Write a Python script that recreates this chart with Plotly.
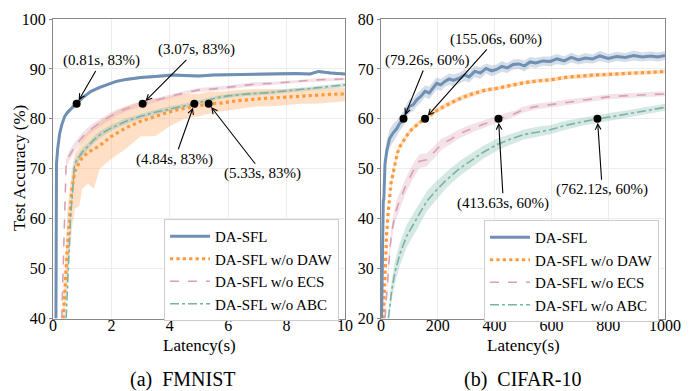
import plotly.graph_objects as go

# ---------------- FMNIST data ----------------
f_sfl_x = [0.10, 0.11, 0.12, 0.16, 0.23, 0.3, 0.4, 0.5, 0.6, 0.7, 0.81, 0.9, 1.0, 1.14, 1.3, 1.6, 1.9, 2.17, 2.5, 3.0,
           3.5, 4.1, 4.5, 5.0, 5.5, 6.2, 6.8, 7.3, 7.8, 8.3, 8.8, 9.1, 9.5, 10.0]
f_sfl_y = [40, 55, 71, 74, 77.1, 78.8, 80.5, 81.3, 82.0, 82.5, 83.0, 83.6, 84.2, 84.8, 85.5, 86.3, 87.0, 87.5, 87.9, 88.3,
           88.5, 88.8, 88.7, 88.6, 88.8, 88.9, 88.9, 89.0, 89.0, 89.1, 89.0, 89.5, 89.2, 89.0]
f_sfl_w = [0.5, 0.5, 0.5, 0.5, 0.5, 0.4, 0.4, 0.4, 0.4, 0.4, 0.4, 0.4, 0.4, 0.4, 0.3, 0.3, 0.3, 0.3, 0.3, 0.3,
           0.3, 0.3, 0.3, 0.3, 0.3, 0.3, 0.3, 0.3, 0.3, 0.3, 0.3, 0.3, 0.3, 0.3]

f_daw_x = [0.35, 0.5, 0.65, 0.75, 0.9, 1.0, 1.2, 1.4, 1.6, 2.0, 2.5, 3.0, 3.5, 4.0, 4.5, 5.0, 5.33, 5.8, 6.3, 7.0,
           7.5, 8.0, 8.5, 9.0, 9.5, 10.0]
f_daw_y = [40, 55, 66, 69.5, 71.3, 72.2, 73.3, 74.0, 74.6, 76.5, 78.2, 79.5, 80.4, 81.4, 82.1, 82.6, 83.0, 83.2, 83.6, 84.0,
           84.2, 84.4, 84.6, 84.8, 84.9, 85.0]
f_daw_lo = [38, 48, 58, 62, 62.5, 66, 67, 66, 70, 72, 74, 76.5, 76.5, 78.5, 80, 80.5, 81, 81.5, 82, 82.5,
            82.5, 82.7, 83, 83, 83.3, 83.5]
f_daw_hi = [42, 62, 70, 73, 74.5, 76, 77.5, 78.5, 79.5, 81, 82.5, 83.5, 84, 84.5, 85, 85, 85.5, 85.5, 85.8, 86,
            86, 86, 86.2, 86.2, 86.3, 86.3]

f_ecs_x = [0.30, 0.40, 0.45, 0.55, 0.7, 0.85, 1.0, 1.2, 1.4, 1.6, 1.9, 2.2, 2.6, 3.07, 3.5, 4.0, 4.5, 5.0, 5.5, 6.0,
           6.5, 7.0, 7.5, 7.9, 8.5, 9.0, 9.5, 10.0]
f_ecs_y = [40, 60, 71, 72.5, 74, 75.2, 76.3, 77.5, 78.4, 79.2, 80.3, 81.3, 82.2, 83.0, 83.7, 84.5, 85.2, 85.8, 86.0, 86.3,
           86.7, 87.0, 87.1, 87.3, 87.6, 87.8, 87.9, 88.0]
f_ecs_w = [1.0, 1.0, 1.0, 1.0, 1.0, 0.9, 0.9, 0.8, 0.8, 0.7, 0.7, 0.6, 0.5, 0.5, 0.4, 0.4, 0.4, 0.4, 0.4, 0.4,
           0.4, 0.4, 0.3, 0.3, 0.3, 0.3, 0.3, 0.3]

f_abc_x = [0.45, 0.6, 0.74, 0.9, 1.0, 1.2, 1.4, 1.6, 2.0, 2.5, 3.0, 3.5, 4.0, 4.5, 4.84, 5.2, 5.6, 6.0, 6.7, 7.5,
           8.0, 8.5, 9.0, 9.5, 10.0]
f_abc_y = [40, 60, 71, 72.5, 73.3, 74.5, 75.8, 76.8, 78.2, 79.5, 80.5, 81.3, 82.0, 82.6, 83.0, 83.6, 84.2, 84.6, 85.0, 85.3,
           85.6, 86.0, 86.3, 86.5, 86.8]
f_abc_w = [0.8, 0.8, 0.8, 0.8, 0.8, 0.7, 0.7, 0.7, 0.6, 0.6, 0.5, 0.5, 0.5, 0.5, 0.4, 0.4, 0.4, 0.4, 0.4, 0.4,
           0.4, 0.4, 0.4, 0.4, 0.4]

f_mark_x = [0.81, 3.07, 4.84, 5.33]
f_mark_y = [83, 83, 83, 83]
f_mark_text = ["(0.81s, 83%)", "(3.07s, 83%)", "(4.84s, 83%)", "(5.33s, 83%)"]
f_text_x = [1.66, 4.91, 4.17, 7.19]
f_text_y = [91.6, 93.8, 71.9, 69.0]

# ---------------- CIFAR-10 data ----------------
c_sfl_x = [2, 4, 6, 8, 10, 14, 20, 30, 43, 55, 65, 79, 90, 100, 113, 126, 140, 155, 170, 185, 196, 210, 225, 240, 255,
           278, 295, 310, 330, 350, 370, 390, 407, 425, 445, 465, 485, 505, 525, 545, 570, 595, 620, 645, 670, 695,
           720, 745, 771, 800, 830, 860, 890, 920, 950, 975, 1000]
c_sfl_y = [20, 30, 38, 43.5, 44, 51, 53.5, 56, 57.2, 58, 59, 60, 61.5, 62.5, 62.8, 63.8, 64.5, 65.5, 65.2, 66.3, 67.1,
           66.8, 67.5, 68.0, 67.7, 68.2, 68.8, 68.4, 69.5, 69.2, 70.1, 69.6, 69.9, 70.5, 70.2, 70.9, 71.0, 70.6, 71.4,
           71.2, 71.6, 71.5, 72.0, 71.6, 72.3, 71.8, 72.2, 72.0, 72.6, 72.1, 72.5, 72.3, 72.7, 72.4, 72.6, 72.4, 72.7]
c_sfl_w = [1.5, 2.0, 2.5, 2.5, 2.5, 2.0, 2.0, 1.8, 1.8, 1.6, 1.5, 1.5, 1.4, 1.4, 1.3, 1.3, 1.3, 1.2, 1.3, 1.2, 1.2,
           1.2, 1.1, 1.1, 1.2, 1.1, 1.2, 1.1, 1.1, 1.2, 1.0, 1.1, 1.0, 1.1, 1.0, 1.0, 1.0, 1.1, 1.0, 1.0, 0.9, 1.0,
           1.0, 0.9, 1.0, 0.9, 1.0, 0.9, 1.0, 0.9, 0.9, 0.9, 1.0, 0.9, 0.9, 0.9, 0.9]

c_daw_x = [8, 12, 16, 20, 25, 30, 35, 43, 50, 58, 67, 80, 95, 110, 125, 140, 155, 175, 200, 225, 250, 280, 310, 340,
           370, 407, 450, 500, 550, 595, 650, 700, 750, 800, 850, 900, 950, 1000]
c_daw_y = [20, 26, 32, 37, 41, 44.5, 47, 49.2, 51.5, 53.2, 54.5, 55.8, 57, 58, 58.8, 59.4, 60, 60.8, 61.8, 62.6, 63.3,
           64.1, 64.8, 65.3, 65.8, 66.1, 66.6, 67.2, 67.6, 67.8, 68.3, 68.6, 68.8, 68.9, 69.1, 69.2, 69.3, 69.5]
c_daw_w = [0.6, 0.6, 0.6, 0.6, 0.6, 0.6, 0.6, 0.6, 0.6, 0.6, 0.5, 0.5, 0.5, 0.5, 0.5, 0.5, 0.5, 0.5, 0.5, 0.5, 0.5,
           0.5, 0.5, 0.5, 0.4, 0.4, 0.4, 0.4, 0.4, 0.4, 0.4, 0.4, 0.4, 0.4, 0.4, 0.4, 0.4, 0.4]

c_ecs_x = [14, 20, 26, 32, 40, 50, 60, 73, 90, 113, 135, 161, 190, 215, 243, 270, 300, 330, 360, 390, 413.63, 440,
           470, 500, 540, 595, 650, 700, 750, 800, 850, 900, 950, 1000]
c_ecs_y = [20, 25, 30, 34.5, 38, 41, 42.8, 44.5, 47, 49.5, 51.5, 51.8, 53.5, 55, 55.8, 56.8, 57.6, 58.3, 58.9, 59.5,
           60, 60.5, 61, 61.8, 62.4, 62.8, 63.3, 63.6, 64.0, 64.4, 64.6, 64.7, 64.9, 65.0]
c_ecs_w = [0.8, 1.0, 1.2, 1.4, 1.5, 1.6, 1.6, 1.6, 1.5, 1.5, 1.4, 1.3, 1.2, 1.1, 1.0, 0.9, 0.9, 0.8, 0.8, 0.7,
           0.7, 0.7, 0.6, 0.6, 0.6, 0.5, 0.5, 0.5, 0.5, 0.5, 0.5, 0.5, 0.5, 0.5]

c_abc_x = [26, 32, 38, 50, 67, 90, 126, 161, 200, 231, 278, 320, 360, 407, 450, 500, 550, 595, 650, 700, 762.12, 820,
           870, 920, 960, 1000]
c_abc_y = [20, 23, 25.8, 29.5, 33, 36.5, 40, 43.5, 46, 47.8, 50.1, 51.8, 53.3, 54.8, 55.8, 56.8, 57.4, 57.8, 58.7,
           59.3, 60, 60.5, 61, 61.5, 61.9, 62.3]
c_abc_w = [1.0, 1.5, 2.0, 2.2, 2.3, 2.3, 2.2, 2.0, 1.8, 1.6, 1.5, 1.4, 1.3, 1.2, 1.1, 1.0, 1.0, 0.9, 0.9, 0.8,
           0.8, 0.8, 0.7, 0.7, 0.7, 0.7]

c_mark_x = [79.26, 155.06, 413.63, 762.12]
c_mark_y = [60, 60, 60, 60]
c_mark_text = ["(79.26s, 60%)", "(155.06s, 60%)", "(413.63s, 60%)", "(762.12s, 60%)"]
c_text_x = [163, 404, 431, 779]
c_text_y = [71.7, 75.9, 43.1, 45.8]

names = ["DA-SFL", "DA-SFL w/o DAW", "DA-SFL w/o ECS", "DA-SFL w/o ABC"]
colors = ["#6f90b4", "#ff9a3c", "#d8a0b4", "#78b4a4"]
fills = ["rgba(111,144,180,0.30)", "rgba(255,160,80,0.32)", "rgba(216,160,180,0.30)", "rgba(120,180,164,0.30)"]
dashes = ["solid", "dot", "dash", "dashdot"]
widths = [3, 3.2, 1.6, 1.6]

FONT = "Times New Roman, Liberation Serif, DejaVu Serif, serif"

fig = go.Figure()


def add_band(x, lo, hi, color, xa, ya):
    fig.add_trace(go.Scatter(x=x + x[::-1], y=hi + lo[::-1], fill="toself", fillcolor=color,
                             line=dict(width=0), mode="lines", hoverinfo="skip", showlegend=False,
                             xaxis=xa, yaxis=ya))


def add_line(x, y, i, xa, ya, legend):
    fig.add_trace(go.Scatter(x=x, y=y, mode="lines", name=names[i], legendrank=i + 1,
                             line=dict(color=colors[i], width=widths[i], dash=dashes[i]),
                             xaxis=xa, yaxis=ya, legend=legend))


# FMNIST bands + lines
f_series = [(f_sfl_x, f_sfl_y, f_sfl_w), (f_daw_x, f_daw_y, None), (f_ecs_x, f_ecs_y, f_ecs_w), (f_abc_x, f_abc_y, f_abc_w)]
for i, (x, y, w) in enumerate(f_series):
    if w is None:
        lo, hi = f_daw_lo, f_daw_hi
    else:
        lo = [a - b for a, b in zip(y, w)]
        hi = [a + b for a, b in zip(y, w)]
    add_band(x, lo, hi, fills[i], "x", "y")
for i in [1, 2, 3, 0]:
    x, y, _ = f_series[i]
    add_line(x, y, i, "x", "y", "legend")

# CIFAR bands + lines
c_series = [(c_sfl_x, c_sfl_y, c_sfl_w), (c_daw_x, c_daw_y, c_daw_w), (c_ecs_x, c_ecs_y, c_ecs_w), (c_abc_x, c_abc_y, c_abc_w)]
for i, (x, y, w) in enumerate(c_series):
    lo = [a - b for a, b in zip(y, w)]
    hi = [a + b for a, b in zip(y, w)]
    add_band(x, lo, hi, fills[i], "x2", "y2")
for i in [1, 2, 3, 0]:
    x, y, _ = c_series[i]
    add_line(x, y, i, "x2", "y2", "legend2")

# markers
fig.add_trace(go.Scatter(x=f_mark_x, y=f_mark_y, mode="markers", marker=dict(color="black", size=8),
                         showlegend=False, xaxis="x", yaxis="y"))
fig.add_trace(go.Scatter(x=c_mark_x, y=c_mark_y, mode="markers", marker=dict(color="black", size=8),
                         showlegend=False, xaxis="x2", yaxis="y2"))

annotations = []
for mx, my, tx, ty, t in zip(f_mark_x, f_mark_y, f_text_x, f_text_y, f_mark_text):
    annotations.append(dict(x=mx, y=my, xref="x", yref="y", ax=tx, ay=ty, axref="x", ayref="y",
                            text=t, showarrow=True, arrowhead=5, arrowsize=1.0, arrowwidth=1.1,
                            arrowcolor="black", standoff=4, font=dict(family=FONT, size=15, color="black")))
for mx, my, tx, ty, t in zip(c_mark_x, c_mark_y, c_text_x, c_text_y, c_mark_text):
    annotations.append(dict(x=mx, y=my, xref="x2", yref="y2", ax=tx, ay=ty, axref="x2", ayref="y2",
                            text=t, showarrow=True, arrowhead=5, arrowsize=1.0, arrowwidth=1.1,
                            arrowcolor="black", standoff=4, font=dict(family=FONT, size=15, color="black")))

# axis titles and captions
cap = dict(xref="paper", yref="paper", showarrow=False, xanchor="center", yanchor="middle")
annotations += [
    dict(text="Latency(s)", x=199 / 697, y=1 - 345 / 391, font=dict(family=FONT, size=17, color="black"), **cap),
    dict(text="Latency(s)", x=523 / 697, y=1 - 345 / 391, font=dict(family=FONT, size=17, color="black"), **cap),
    dict(text="Test Accuracy (%)", x=19 / 697, y=1 - 168 / 391, textangle=-90,
         font=dict(family=FONT, size=17, color="black"), **cap),
    dict(text="(a)  FMNIST", x=183 / 697, y=1 - 379 / 391, font=dict(family=FONT, size=20, color="black"), **cap),
    dict(text="(b)  CIFAR-10", x=522 / 697, y=1 - 379 / 391, font=dict(family=FONT, size=20, color="black"), **cap),
]

axis_common = dict(showgrid=True, gridcolor="#ededed", gridwidth=1, showline=True, linecolor="#888888",
                   linewidth=1, mirror=True, tickcolor="#888888",
                   tickfont=dict(family=FONT, size=16, color="black"), zeroline=False, automargin=False)

ydom = [1 - 318.5 / 391, 1 - 19 / 391]
legend_common = dict(xanchor="left", yanchor="top", bgcolor="white", bordercolor="#cccccc", borderwidth=1,
                     font=dict(family=FONT, size=15, color="black"), traceorder="normal", itemwidth=40)
xt = dict(ticks="", ticklabelstandoff=-8)
yt = dict(ticks="outside", ticklen=3)
fig.update_layout(
    width=697, height=391, margin=dict(l=0, r=0, t=0, b=0),
    paper_bgcolor="white", plot_bgcolor="white",
    xaxis=dict(domain=[53 / 697, 345 / 697], range=[0, 10], tickvals=[0, 2, 4, 6, 8, 10], anchor="y",
               **xt, **axis_common),
    yaxis=dict(domain=ydom, range=[40, 100], tickvals=[40, 50, 60, 70, 80, 90, 100], anchor="x", **yt, **axis_common),
    xaxis2=dict(domain=[381 / 697, 665 / 697], range=[0, 1000], tickvals=[0, 200, 400, 600, 800, 1000], anchor="y2",
                **xt, **axis_common),
    yaxis2=dict(domain=ydom, range=[20, 80], tickvals=[20, 30, 40, 50, 60, 70, 80], anchor="x2", **yt, **axis_common),
    legend=dict(x=164 / 697, y=1 - 219 / 391, **legend_common),
    legend2=dict(x=484 / 697, y=1 - 220 / 391, **legend_common),
    annotations=annotations,
    showlegend=True,
)

fig.write_html("out.html")
